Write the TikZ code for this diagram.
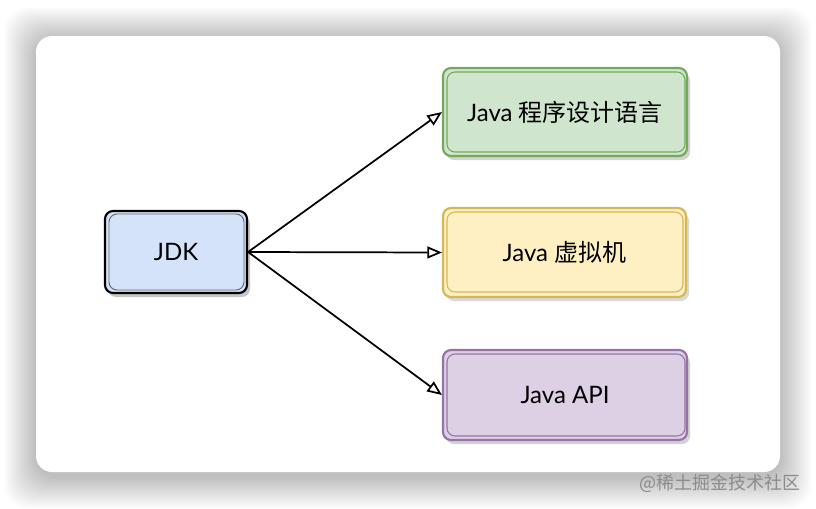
\documentclass[tikz,border=0pt]{standalone}
\usepackage{fontspec}
\setmainfont{Lato}
\newfontfamily\cjk{Noto Sans CJK SC}
\usetikzlibrary{arrows.meta}
\definecolor{jdkfill}{HTML}{D4E3FA}
\definecolor{gfill}{HTML}{CFE5CD}
\definecolor{gline}{HTML}{74A85A}
\definecolor{yfill}{HTML}{FFF0C4}
\definecolor{yline}{HTML}{D6B656}
\definecolor{pfill}{HTML}{DDCFE4}
\definecolor{pline}{HTML}{9673A6}
\tikzset{
  box/.style={rounded corners=6pt, line width=1.6pt, minimum width=#1, inner sep=0pt,
    font=\fontsize{18}{21}\selectfont, text=black},
  conn/.style={line width=1.3pt, -{Triangle[open,length=11pt,width=9pt,line width=1.3pt]}},
}
\begin{document}
\begin{tikzpicture}[x=0.75pt,y=-0.75pt]
\useasboundingbox (0,0) rectangle (816,508);
\fill[white] (0,0) rectangle (816,508);
% card shadow
\foreach \i in {1,...,32}{
  \fill[black,opacity=0.0075,rounded corners=18pt] (36-\i,39-\i) rectangle (780+\i,477+\i);
}
\fill[white,rounded corners=12pt] (36,36) rectangle (780,472);
% JDK box
\fill[gray!45,rounded corners=6pt] (108,216) rectangle (250,297);
\node[box, draw=black, fill=jdkfill, minimum width=142*0.75pt, minimum height=82*0.75pt] (jdk) at (176,252) {JDK};
\draw[black!60,line width=0.7pt,rounded corners=6pt] (109,214) rectangle (244,290);
% green
\fill[gray!35,rounded corners=6pt] (446,73) rectangle (690,160);
\node[box, draw=gline, fill=gfill, minimum width=244*0.75pt, minimum height=88*0.75pt] (lang) at (565,112) {Java {\cjk 程序设计语言}};
\draw[gline,line width=0.8pt,rounded corners=6pt] (447,72) rectangle (685,152);
% yellow
\fill[gray!30,rounded corners=6pt] (446,213) rectangle (689,301);
\node[box, draw=yline, fill=yfill, minimum width=243*0.75pt, minimum height=89*0.75pt] (jvm) at (564.5,252.5) {Java {\cjk 虚拟机}};
\draw[yline,line width=0.8pt,rounded corners=6pt] (447,212) rectangle (683,292);
% purple
\fill[gray!35,rounded corners=6pt] (446,355) rectangle (690,444);
\node[box, draw=pline, fill=pfill, minimum width=244*0.75pt, minimum height=90*0.75pt] (api) at (565,395) {Java API};
\draw[pline,line width=0.8pt,rounded corners=6pt] (447,354) rectangle (685,436);
% connectors
\draw[conn] (jdk.east) -- (lang.west);
\draw[conn] (jdk.east) -- (jvm.west);
\draw[conn] (jdk.east) -- (api.west);
% watermark
\node[anchor=east, text=black!45, font=\cjk\fontsize{13.5}{16}\selectfont, inner sep=0pt] (wm) at (801,483) {@稀土掘金技术社区};
\end{tikzpicture}
\end{document}
